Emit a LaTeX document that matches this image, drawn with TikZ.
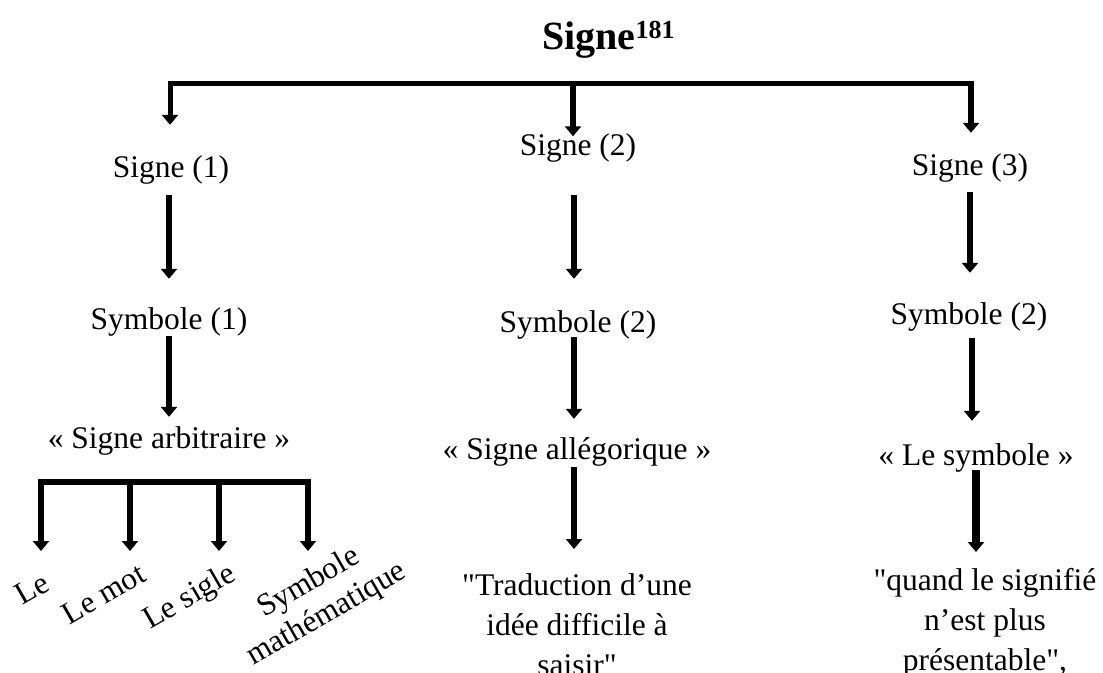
\documentclass[tikz,border=0pt]{standalone}
\usepackage{fontspec}
\setmainfont{Liberation Serif}[Ligatures=TeXOff]
\usetikzlibrary{arrows.meta}

\tikzset{
  lbl/.style={font=\fontsize{31.5}{40}\selectfont, inner sep=0pt,
              text height=22pt, text depth=7pt, anchor=base},
  para/.style={font=\fontsize{31.5}{40}\selectfont, inner sep=0pt,
               align=center, anchor=north},
  leaf/.style={font=\fontsize{31.5}{36}\selectfont, inner sep=0pt,
               rotate=30, align=center},
  arr/.style={line width=6.5pt, -{Triangle[width=16pt,length=10pt]}},
  bar/.style={line width=5pt},
}

\begin{document}
\begin{tikzpicture}[x=1pt, y=-1pt]
  \clip (0,0) rectangle (1103,672);

  % title
  \node[anchor=base west, inner sep=0pt,
        font=\fontsize{40}{48}\selectfont\bfseries] (title) at (542,49)
        {Signe\raisebox{11pt}{\fontsize{26}{30}\selectfont 181}};

  % first level
  \node[lbl] (s1) at (171,177) {Signe (1)};
  \node[lbl] (s2) at (578,155) {Signe (2)};
  \node[lbl] (s3) at (970,175) {Signe (3)};

  % second level
  \node[lbl] (y1) at (169,329) {Symbole (1)};
  \node[lbl] (y2) at (578,332) {Symbole (2)};
  \node[lbl] (y3) at (969,324) {Symbole (2)};

  % third level
  \node[lbl] (q1) at (169,448) {« Signe arbitraire »};
  \node[lbl] (q2) at (577,459) {« Signe allégorique »};
  \node[lbl] (q3) at (976,465) {« Le symbole »};

  % definitions
  \node[para] (t2) at (577,573.5) {"Traduction d’une\\idée difficile à\\saisir"};
  \node[para] (t3) at (985,568.5) {"quand le signifié\\n’est plus\\présentable",};

  % examples of arbitrary signs
  \node[leaf, text height=22pt, text depth=7pt] (l1) at (33,591) {Le};
  \node[leaf, text height=22pt, text depth=7pt] (l2) at (105,596) {Le mot};
  \node[leaf, text height=22pt, text depth=7pt] (l3) at (190,598) {Le sigle};
  \node[leaf] (l4) at (318,599) {Symbole\\mathématique};

  % top bracket
  \coordinate (b1) at (170,83);
  \coordinate (b2) at (573,83);
  \coordinate (b3) at (971,83);
  \draw[bar] (b1) -- (b3);
  \draw[arr, line width=5pt, shorten <=-2.5pt, shorten >=30pt] (b1) -- (b1 |- s1.north);
  \draw[arr, shorten >=-3.5pt] (b2) -- (b2 |- s2.north);
  \draw[arr, shorten <=-2.5pt, shorten >=20pt] (b3) -- (b3 |- s3.north);

  % column arrows
  \draw[arr, shorten <=11pt, shorten >=28pt] ([xshift=-2pt]s1.south) -- ([xshift=-2pt]s1.south |- y1.north);
  \draw[arr, shorten <=33pt, shorten >=31pt] ([xshift=-4pt]s2.south) -- ([xshift=-4pt]s2.south |- y2.north);
  \draw[arr, shorten <=10pt, shorten >=29pt] (s3.south) -- (s3.south |- y3.north);

  \draw[arr, shorten >=9pt] (y1.south) -- (y1.south |- q1.north);
  \draw[arr, shorten <=-2pt, shorten >=18pt] ([xshift=-4pt]y2.south) -- ([xshift=-4pt]y2.south |- q2.north);
  \draw[arr, shorten <=7pt, shorten >=22pt] ([xshift=3pt]y3.south) -- ([xshift=3pt]y3.south |- q3.north);

  \draw[arr, shorten <=1pt, shorten >=24.5pt] ([xshift=-3pt]q2.south) -- ([xshift=-3pt]q2.south |- t2.north);
  \draw[arr, line width=7.5pt, shorten <=-2pt, shorten >=16.5pt] (q3.south) -- (q3.south |- t3.north);

  % bracket under the arbitrary sign
  \coordinate (f1) at (41,482);
  \coordinate (f2) at (130,482);
  \coordinate (f3) at (219,482);
  \coordinate (f4) at (308,482);
  \coordinate (e1) at (41,551);
  \coordinate (e2) at (130,551);
  \coordinate (e3) at (219,551);
  \coordinate (e4) at (308,551);
  \draw[bar, line width=6pt] (f1) -- (f4);
  \foreach \i in {1,...,4}
    \draw[arr, shorten <=-3pt] (f\i) -- (e\i);
\end{tikzpicture}
\end{document}
